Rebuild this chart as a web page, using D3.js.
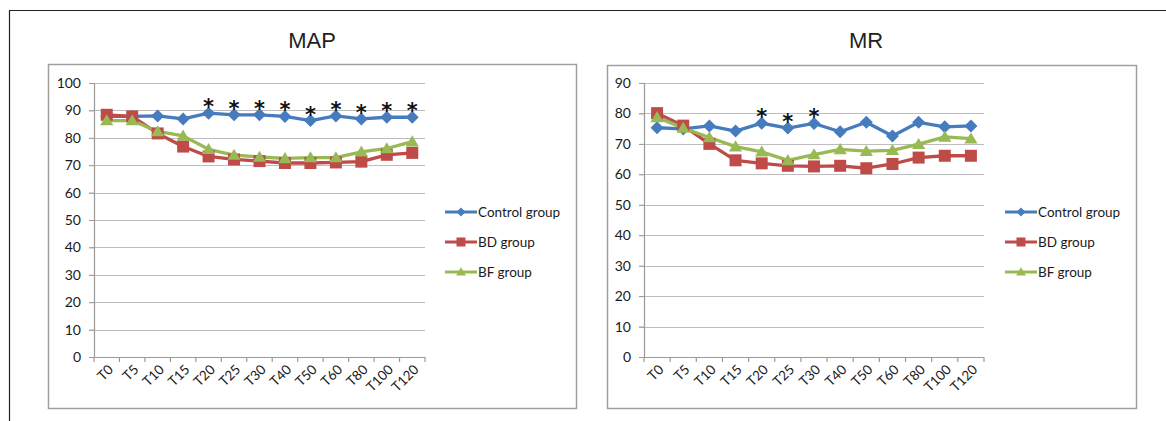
<!DOCTYPE html>
<html>
<head>
<meta charset="utf-8">
<script src="https://cdn.jsdelivr.net/npm/d3@7"></script>
<style>
  html, body { margin: 0; padding: 0; background: #fff; }
  svg { display: block; }
</style>
</head>
<body>
<svg id="chart" width="1166" height="421"></svg>
<script>
const categories = ["T0","T5","T10","T15","T20","T25","T30","T40","T50","T60","T80","T100","T120"];
const seriesNames = ["Control group","BD group","BF group"];

const mapControl = [87.8, 87.8, 88.0, 86.9, 89.0, 88.4, 88.4, 87.8, 86.3, 88.0, 86.9, 87.5, 87.5];
const mapBD      = [88.4, 87.8, 81.6, 76.8, 73.2, 72.1, 71.5, 70.8, 70.8, 71.0, 71.3, 73.8, 74.5];
const mapBF      = [86.3, 86.3, 82.3, 80.7, 75.8, 73.7, 73.0, 72.5, 72.8, 72.8, 74.9, 76.1, 78.6];
const mapStars   = ["T20","T25","T30","T40","T50","T60","T80","T100","T120"];
const mapTicks   = [0,10,20,30,40,50,60,70,80,90,100];

const mrControl = [75.3, 74.9, 75.9, 74.2, 76.8, 75.2, 76.7, 74.0, 77.1, 72.6, 77.1, 75.6, 75.9];
const mrBD      = [80.1, 76.0, 70.0, 64.6, 63.6, 62.8, 62.6, 62.8, 62.0, 63.4, 65.5, 66.1, 66.1];
const mrBF      = [78.7, 75.2, 72.1, 69.1, 67.4, 64.6, 66.5, 68.2, 67.6, 67.9, 69.9, 72.3, 71.7];
const mrStars   = ["T20","T25","T30"];
const mrTicks   = [0,10,20,30,40,50,60,70,80,90];

const colors = ["#467bbd", "#be4b48", "#98b954"];
const markers = ["diamond", "square", "triangle"];

const svg = d3.select("#chart");

// outer frame
svg.append("path").attr("d", "M9.5,421 V10.5 H1166")
  .attr("fill", "none").attr("stroke", "#222").attr("stroke-width", 1.2);

const panels = [
  { title: "MAP", titleX: 312, box: [48, 64, 528, 344], x0: 94, x1: 425, yTop: 83, yBot: 357,
    yMax: 100, ticks: mapTicks, data: [mapControl, mapBD, mapBF], stars: mapStars, legendX: 445 },
  { title: "MR", titleX: 866, box: [607, 65, 529, 343], x0: 644, x1: 984, yTop: 83, yBot: 357,
    yMax: 90, ticks: mrTicks, data: [mrControl, mrBD, mrBF], stars: mrStars, legendX: 1005 }
];

function markerPath(type, size) {
  const s = size;
  if (type === "diamond") return `M0,${-s} L${s},0 L0,${s} L${-s},0 Z`;
  if (type === "square") return `M${-s},${-s} H${s} V${s} H${-s} Z`;
  return `M0,${-s*1.05} L${s*1.1},${s*0.8} L${-s*1.1},${s*0.8} Z`;
}

panels.forEach(p => {
  const g = svg.append("g");
  // title
  g.append("text").attr("x", p.titleX).attr("y", 48).attr("text-anchor", "middle")
    .attr("font-family", "Liberation Sans, Arial, sans-serif").attr("font-size", 22)
    .attr("fill", "#222").text(p.title);
  // chart box
  g.append("rect").attr("x", p.box[0] + 0.5).attr("y", p.box[1] + 0.5)
    .attr("width", p.box[2]).attr("height", p.box[3])
    .attr("fill", "#fff").attr("stroke", "#a0a0a0").attr("stroke-width", 1.5);

  const x = d3.scaleBand().domain(categories).range([p.x0, p.x1]).padding(0);
  const y = d3.scaleLinear().domain([0, p.yMax]).range([p.yBot, p.yTop]);

  // gridlines
  g.append("g").selectAll("line").data(p.ticks.filter(t => t > 0)).join("line")
    .attr("x1", p.x0 - 5).attr("x2", p.x1)
    .attr("y1", d => Math.round(y(d)) + 0.5).attr("y2", d => Math.round(y(d)) + 0.5)
    .attr("stroke", "#bdbdbd").attr("stroke-width", 1.2);

  // y axis
  const yAxis = d3.axisLeft(y).tickValues(p.ticks).tickSize(5).tickPadding(8);
  const ya = g.append("g").attr("transform", `translate(${p.x0},0)`).call(yAxis);
  ya.select(".domain").attr("stroke", "#9a9a9a").attr("stroke-width", 1.2);
  ya.selectAll(".tick line").attr("stroke", "#9a9a9a");
  ya.selectAll(".tick text").attr("font-family", "Lato, Carlito, sans-serif")
    .attr("font-size", 14).attr("fill", "#1a1a1a");

  // x axis
  const xa = g.append("g").attr("transform", `translate(0,${p.yBot})`);
  xa.append("line").attr("x1", p.x0).attr("x2", p.x1).attr("y1", 0.5).attr("y2", 0.5)
    .attr("stroke", "#9a9a9a").attr("stroke-width", 1.2);
  const bounds = categories.map(c => x(c)).concat([p.x1]);
  xa.selectAll("line.tk").data(bounds).join("line").attr("class", "tk")
    .attr("x1", d => d).attr("x2", d => d).attr("y1", 0).attr("y2", 5)
    .attr("stroke", "#9a9a9a").attr("stroke-width", 1.2);
  xa.selectAll("text").data(categories).join("text")
    .attr("transform", d => `translate(${x(d) + x.bandwidth() / 2 + 4},${10}) rotate(-45)`)
    .attr("text-anchor", "end").attr("dy", "0.35em")
    .attr("font-family", "Lato, Carlito, sans-serif").attr("font-size", 13.5)
    .attr("fill", "#1a1a1a").text(d => d);

  const cx = c => x(c) + x.bandwidth() / 2;
  const line = d3.line().x((d, i) => cx(categories[i])).y(d => y(d));

  p.data.forEach((vals, si) => {
    g.append("path").datum(vals).attr("d", line)
      .attr("fill", "none").attr("stroke", colors[si]).attr("stroke-width", 3.3)
      .attr("stroke-linejoin", "round");
  });
  p.data.forEach((vals, si) => {
    g.append("g").selectAll("path").data(vals).join("path")
      .attr("transform", (d, i) => `translate(${cx(categories[i])},${y(d)})`)
      .attr("d", markerPath(markers[si], si === 0 ? 6.5 : 6))
      .attr("fill", colors[si]);
  });

  // asterisks
  g.append("g").selectAll("text").data(p.stars).join("text")
    .attr("x", d => cx(d))
    .attr("y", d => y(p.data[0][categories.indexOf(d)]) + 1)
    .attr("text-anchor", "middle")
    .attr("font-family", "DejaVu Sans, sans-serif").attr("font-size", 21)
    .attr("font-weight", "bold").attr("fill", "#111").text("*");

  // legend
  const lg = g.append("g");
  seriesNames.forEach((name, si) => {
    const ly = 212 + si * 30;
    lg.append("line").attr("x1", p.legendX).attr("x2", p.legendX + 32)
      .attr("y1", ly).attr("y2", ly).attr("stroke", colors[si]).attr("stroke-width", 3);
    lg.append("path").attr("transform", `translate(${p.legendX + 16},${ly})`)
      .attr("d", markerPath(markers[si], 4.5)).attr("fill", colors[si]);
    lg.append("text").attr("x", p.legendX + 33).attr("y", ly).attr("dy", "0.35em")
      .attr("font-family", "Lato, Carlito, sans-serif").attr("font-size", 13.5)
      .attr("fill", "#1a1a1a").text(name);
  });
});
</script>
</body>
</html>
